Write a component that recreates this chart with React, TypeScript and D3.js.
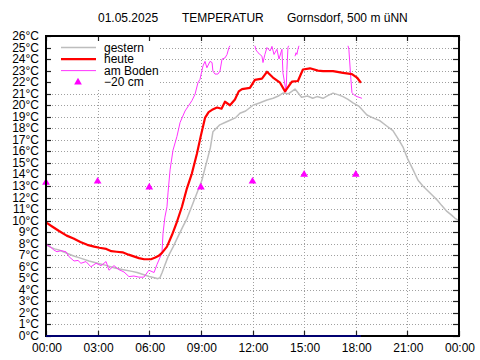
import React from "react";
import * as d3 from "d3";

const W = 480;
const H = 360;
const PL = 46, PR = 459, PT = 36, PB = 336;

const xTickHours = [0, 3, 6, 9, 12, 15, 18, 21, 24];
const xTickLabels = ["00:00", "03:00", "06:00", "09:00", "12:00", "15:00", "18:00", "21:00", "00:00"];

const titleParts = ["01.05.2025", "TEMPERATUR", "Gornsdorf, 500 m üNN"];
const legendLabels = ["gestern", "heute", "am Boden", "\u221220 cm"];

// gestern
const gesternTime = [0, 0.25, 0.5, 0.75, 1.0, 1.25, 1.57, 2.0, 2.5, 3.0, 3.54, 4.0, 4.5, 5.0, 5.29, 5.6, 6.0, 6.3, 6.5, 6.62, 6.75, 6.91, 7.1, 7.38, 7.6, 7.96, 8.2, 8.54, 8.8, 9.06, 9.25, 9.41, 9.55, 9.7, 10.1, 10.4, 10.69, 11.0, 11.27, 11.6, 12.03, 12.4, 12.84, 13.2, 13.5, 13.77, 14.1, 14.47, 14.85, 15.2, 15.5, 15.75, 16.1, 16.4, 16.68, 17.0, 17.26, 17.55, 17.84, 18.2, 18.65, 19.0, 19.41, 19.8, 20.16, 20.5, 20.74, 21.03, 21.3, 21.62, 21.9, 22.14, 22.45, 22.72, 23.0, 23.3, 23.55, 23.77, 24.0];
const gesternTemp = [7.9, 7.7, 7.55, 7.45, 7.3, 7.15, 6.95, 6.75, 6.5, 6.3, 6.1, 5.9, 5.75, 5.6, 5.5, 5.35, 5.15, 5.05, 4.97, 5.05, 5.5, 6.15, 6.9, 7.7, 8.4, 9.5, 10.2, 11.5, 12.5, 13.5, 14.6, 15.5, 16.3, 17.7, 18.3, 18.5, 18.7, 18.9, 19.3, 19.5, 20.0, 20.2, 20.45, 20.6, 20.8, 21.05, 21.0, 21.4, 20.7, 20.8, 20.6, 20.75, 20.6, 20.85, 21.05, 20.9, 20.75, 20.5, 20.2, 19.9, 19.15, 18.9, 18.65, 18.2, 17.8, 17.0, 16.4, 15.3, 14.5, 13.5, 13.0, 12.65, 12.2, 11.8, 11.3, 10.8, 10.5, 10.2, 10.0];

// heute
const heuteTime = [0, 0.4, 0.76, 1.2, 1.6, 2.0, 2.4, 2.8, 3.1, 3.5, 3.8, 4.1, 4.45, 4.8, 5.1, 5.4, 5.7, 6.1, 6.35, 6.55, 6.74, 7.03, 7.32, 7.61, 7.9, 8.19, 8.48, 8.77, 8.99, 9.24, 9.45, 9.65, 9.94, 10.2, 10.4, 10.69, 10.98, 11.2, 11.39, 11.85, 12.14, 12.55, 12.84, 13.19, 13.6, 13.89, 14.29, 14.64, 14.93, 15.34, 15.8, 16.1, 16.68, 17.26, 17.78, 18.07, 18.3];
const heuteTemp = [9.85, 9.45, 9.1, 8.7, 8.45, 8.15, 7.9, 7.75, 7.65, 7.55, 7.35, 7.3, 7.25, 7.05, 6.9, 6.75, 6.65, 6.65, 6.8, 6.95, 7.2, 7.75, 8.75, 9.9, 11.2, 12.8, 14.1, 15.8, 17.3, 18.9, 19.4, 19.6, 19.8, 19.7, 20.3, 20.0, 20.5, 21.2, 21.4, 21.5, 22.2, 22.3, 22.9, 22.4, 21.95, 21.2, 22.05, 22.1, 23.1, 23.2, 23.0, 22.96, 22.96, 22.8, 22.7, 22.4, 21.95];

// am Boden (null = gap)
const bodenTime = [0, 0.06, 0.23, 0.46, 0.64, 0.87, 1.16, 1.34, 1.63, 1.86, 2.03, 2.32, 2.61, 2.91, 3.2, 3.49, 3.66, 3.95, 4.24, 4.53, 4.82, 5.11, 5.4, 5.69, 5.98, 6.28, 6.45, 6.74, 6.8, 6.91, 7.03, 7.09, 7.21, 7.38, 7.61, 7.79, 8.08, 8.48, 8.66, 8.83, 8.95, 9.12, 9.24, 9.35, 9.53, 9.65, 9.7, 9.82, 9.99, 10.11, 10.23, 10.4, 10.52, 10.63, 10.69,
  11.5,
  12.14, 12.2, 12.32, 12.55, 12.61, 12.72, 12.84, 13.02, 13.13, 13.25, 13.42, 13.54, 13.71, 13.77, 13.95, 14.0, 14.06, 14.1,
  14.3,
  14.47, 14.53, 14.58, 14.64, 14.7,
  16.0,
  17.55, 17.6, 17.72, 17.78, 17.9, 18.07, 18.36];
const bodenTemp = [7.85, 7.9, 7.75, 7.45, 7.3, 7.4, 7.3, 6.87, 6.5, 6.55, 6.3, 6.45, 6.0, 6.3, 6.1, 6.45, 5.7, 6.1, 5.75, 5.55, 5.15, 5.2, 5.1, 5.1, 5.7, 5.5, 6.2, 7.2, 8.9, 10.3, 11.2, 12.4, 14.4, 16.1, 17.3, 18.5, 19.5, 20.4, 20.95, 21.95, 22.25, 23.4, 23.8, 23.25, 23.8, 23.7, 22.96, 22.7, 22.7, 22.96, 24.0, 24.1, 24.4, 25.0, 25.15,
  null,
  25.15, 24.8, 24.55, 24.25, 23.7, 24.4, 25.0, 24.7, 25.1, 24.4, 24.85, 24.0, 24.85, 22.8, 21.2, 23.1, 25.0, 25.15,
  null,
  24.25, 24.55, 24.4, 24.85, 25.15,
  null,
  25.15, 24.85, 22.2, 21.1, 20.9, 20.75, 20.6];

// -20 cm
const tiefeTime = [0, 3, 6, 9, 12, 15, 18];
const tiefeTemp = [13.3, 13.4, 12.9, 12.9, 13.4, 14.0, 14.0];

const FONT = "'Liberation Sans', Arial, Helvetica, sans-serif";

export default function App() {
  const x = d3.scaleLinear().domain([0, 24]).range([PL, PR]);
  const y = d3.scaleLinear().domain([0, 26]).range([PB, PT]);
  const yTicks = y.ticks(26);

  const line = d3
    .line<[number, number | null]>()
    .defined((d) => d[1] !== null)
    .x((d) => x(d[0]))
    .y((d) => y(d[1] as number));

  const gPath = line(gesternTime.map((t, i) => [t, gesternTemp[i]]));
  const hPath = line(heuteTime.map((t, i) => [t, heuteTemp[i]]));
  const bPath = line(bodenTime.map((t, i) => [t, bodenTemp[i]]));
  const tri = d3.symbol().type(d3.symbolTriangle).size(26)();
  const lastHeute = heuteTime[heuteTime.length - 1];

  const legendRowsY = [25, 24, 23, 22].map((v) => y(v));

  return (
    <svg width={W} height={H} style={{ display: "block", position: "absolute", left: 0, top: 0 }} fontFamily={FONT}>
      <rect x={0} y={0} width={W} height={H} fill="#fff" />
      {/* title */}
      <text x={98} y={21.5} fontSize={12} fill="#000">{titleParts[0]}</text>
      <text x={182} y={21.5} fontSize={12} fill="#000">{titleParts[1]}</text>
      <text x={287} y={21.5} fontSize={12} fill="#000">{titleParts[2]}</text>

      {/* grid */}
      <g stroke="#a0a0a0" strokeWidth={1} strokeDasharray="1 2">
        {yTicks.filter((v) => v > 0 && v < 26).map((v) => (
          <line key={"gy" + v} x1={PL} x2={PR} y1={Math.round(y(v)) + 0.5} y2={Math.round(y(v)) + 0.5} />
        ))}
        {xTickHours.filter((h) => h > 0 && h < 24).map((h) => (
          <line key={"gx" + h} x1={Math.round(x(h)) + 0.5} x2={Math.round(x(h)) + 0.5} y1={PT} y2={PB} />
        ))}
      </g>

      {/* legend background */}
      <rect x={PL + 1} y={PT + 1} width={111} height={52} fill="#fff" />

      {/* ticks */}
      <g stroke="#222" strokeWidth={1.2}>
        {yTicks.map((v) => (
          <g key={"ty" + v}>
            <line x1={PL} x2={PL + 5} y1={Math.round(y(v)) + 0.5} y2={Math.round(y(v)) + 0.5} />
            <line x1={PR - 6} x2={PR} y1={Math.round(y(v)) + 0.5} y2={Math.round(y(v)) + 0.5} />
          </g>
        ))}
        {xTickHours.map((h) => (
          <g key={"tx" + h}>
            <line x1={Math.round(x(h)) + 0.5} x2={Math.round(x(h)) + 0.5} y1={PB} y2={PB - 5} />
            <line x1={Math.round(x(h)) + 0.5} x2={Math.round(x(h)) + 0.5} y1={PT} y2={PT + 5} />
          </g>
        ))}
      </g>

      {/* y labels */}
      {yTicks.map((v) => (
        <text key={"ly" + v} x={39} y={y(v) + 4} fontSize={12} textAnchor="end" fill="#000">
          {v}°C
        </text>
      ))}
      {/* x labels */}
      {xTickHours.map((h, i) => (
        <text key={"lx" + i} x={x(h) + 1} y={352} fontSize={12} textAnchor="middle" fill="#000">
          {xTickLabels[i]}
        </text>
      ))}

      {/* data */}
      <path d={gPath || ""} fill="none" stroke="#bdbdbd" strokeWidth={1.5} strokeLinejoin="round" />
      <path d={bPath || ""} fill="none" stroke="#ff33ff" strokeWidth={1} strokeLinejoin="round" />
      <path d={hPath || ""} fill="none" stroke="#ff0000" strokeWidth={2.2} strokeLinejoin="round" />
      {tiefeTime.map((t, i) => (
        <path key={"tr" + i} d={tri || ""} transform={`translate(${x(t)},${y(tiefeTemp[i])})`} fill="#ff00ff" />
      ))}

      {/* legend */}
      <line x1={61} x2={96} y1={legendRowsY[0]} y2={legendRowsY[0]} stroke="#bdbdbd" strokeWidth={1.5} />
      <line x1={61} x2={96} y1={legendRowsY[1]} y2={legendRowsY[1]} stroke="#ff0000" strokeWidth={2.2} />
      <line x1={61} x2={96} y1={legendRowsY[2]} y2={legendRowsY[2]} stroke="#ff33ff" strokeWidth={1} />
      <path d={tri || ""} transform={`translate(78,${legendRowsY[3]})`} fill="#ff00ff" />
      {legendLabels.map((l, i) => (
        <text key={"lg" + i} x={104} y={legendRowsY[i] + 4} fontSize={12} fill="#000">
          {l}
        </text>
      ))}

      {/* frame */}
      <rect x={PL} y={PT} width={PR - PL} height={PB - PT} fill="none" stroke="#000" strokeWidth={2} />
      <line x1={x(0)} x2={x(lastHeute)} y1={PB} y2={PB} stroke="#000070" strokeWidth={2} />
    </svg>
  );
}
